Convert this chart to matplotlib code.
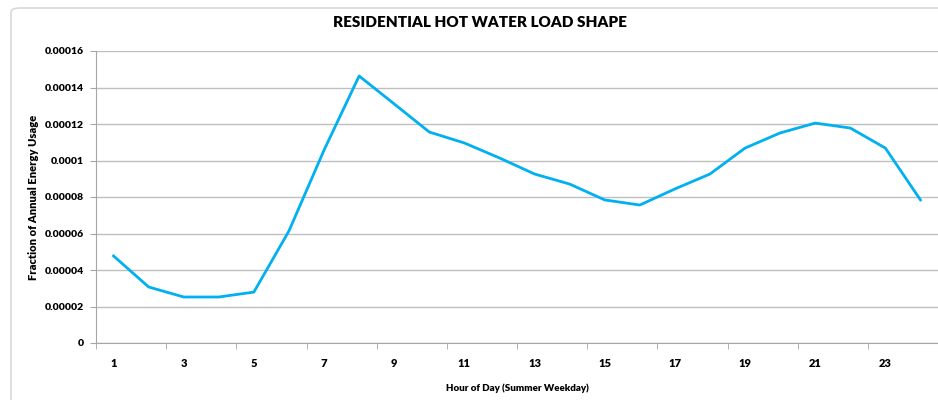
import matplotlib.pyplot as plt
from matplotlib.patches import FancyBboxPatch

# Hourly load shape values
hours = list(range(1, 25))
fraction = [0.0000477, 0.0000307, 0.0000252, 0.0000252, 0.0000279, 0.0000614,
            0.0001057, 0.0001463, 0.0001310, 0.0001156, 0.0001096, 0.0001014,
            0.0000926, 0.0000871, 0.0000784, 0.0000756, 0.0000844, 0.0000926,
            0.0001068, 0.0001151, 0.0001205, 0.0001178, 0.0001068, 0.0000784]
y_ticks = [0, 0.00002, 0.00004, 0.00006, 0.00008, 0.0001, 0.00012, 0.00014, 0.00016]
y_tick_labels = ["0", "0.00002", "0.00004", "0.00006", "0.00008", "0.0001",
                 "0.00012", "0.00014", "0.00016"]
x_tick_labels = [str(h) for h in hours[::2]]

plt.rcParams['font.family'] = ['Lato', 'DejaVu Sans']

fig = plt.figure(figsize=(9.38, 4.0), dpi=100)
ax = fig.add_axes([96 / 938, 57 / 400, 842 / 938, 292 / 400])

# light outer chart border
border = FancyBboxPatch((11 / 938, -0.05), 1.0, 1.05 - 8 / 400,
                        boxstyle="round,pad=0,rounding_size=0.01",
                        transform=fig.transFigure, fill=False,
                        edgecolor='#D9D9D9', linewidth=1.2, clip_on=False)
fig.patches.append(border)

ax.plot(hours, fraction, color='#00B0F0', linewidth=2.0, zorder=3)

ax.set_xlim(0.5, 24.5)
ax.set_ylim(0, 0.00016)
ax.set_yticks(y_ticks)
ax.set_yticklabels(y_tick_labels, fontsize=7.5, fontweight='heavy')
ax.set_xticks(hours[::2])
ax.set_xticklabels(x_tick_labels, fontsize=8, fontweight='heavy')
ax.tick_params(axis='x', which='major', length=0, pad=11)
ax.set_xticks([h + 0.5 for h in range(0, 25, 2)], minor=True)
ax.tick_params(axis='x', which='minor', length=4, color='#A6A6A6', direction='out')
ax.tick_params(axis='y', length=4, color='#A6A6A6', pad=5)

ax.grid(axis='y', color='#BFBFBF', linewidth=1.0)
ax.set_axisbelow(True)
for side in ['top', 'right']:
    ax.spines[side].set_visible(False)
for side in ['left', 'bottom']:
    ax.spines[side].set_color('#A6A6A6')

ax.set_title("RESIDENTIAL HOT WATER LOAD SHAPE", fontsize=11, fontweight='heavy',
             x=(480 - 96) / 842, pad=17)
ax.set_xlabel("Hour of Day (Summer Weekday)", fontsize=7, fontweight='heavy', labelpad=10)
ax.set_ylabel("Fraction of Annual Energy Usage", fontsize=8, fontweight='heavy')
ax.yaxis.set_label_coords((39 - 96) / 842, 0.5)

fig.savefig("out.png", dpi=100)
